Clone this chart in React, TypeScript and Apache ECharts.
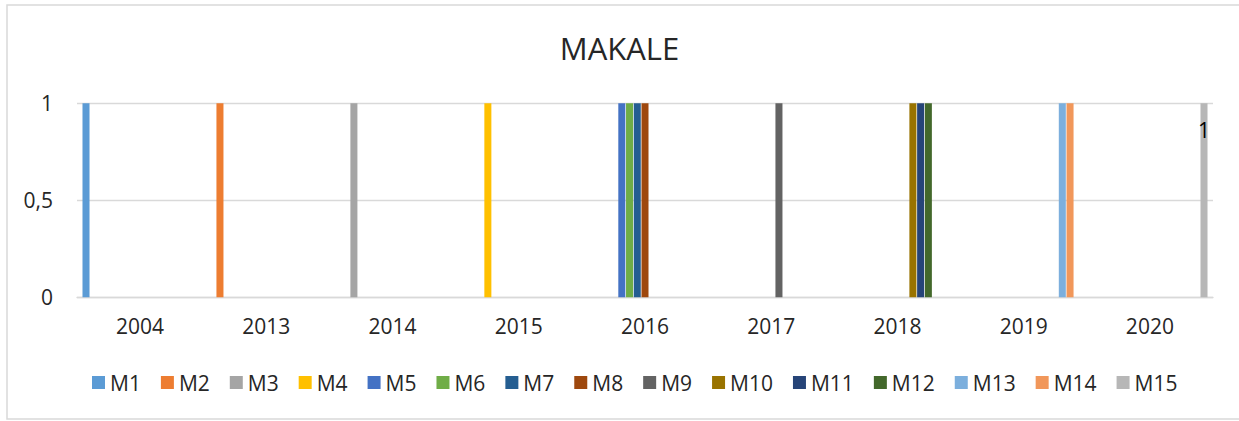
import React, { useEffect, useRef } from "react";
import * as echarts from "echarts";

const categories = ["2004", "2013", "2014", "2015", "2016", "2017", "2018", "2019", "2020"];
const seriesNames = ["M1", "M2", "M3", "M4", "M5", "M6", "M7", "M8", "M9", "M10", "M11", "M12", "M13", "M14", "M15"];
const seriesColors = [
  "#5B9BD5", "#ED7D31", "#A5A5A5", "#FFC000", "#4472C4", "#70AD47", "#255E91", "#9E480E",
  "#636363", "#997300", "#264478", "#43682B", "#7CAFDD", "#F1975A", "#B7B7B7",
];
// values per series across categories (null = blank)
const M1 = [1, null, null, null, null, null, null, null, null];
const M2 = [null, 1, null, null, null, null, null, null, null];
const M3 = [null, null, 1, null, null, null, null, null, null];
const M4 = [null, null, null, 1, null, null, null, null, null];
const M5 = [null, null, null, null, 1, null, null, null, null];
const M6 = [null, null, null, null, 1, null, null, null, null];
const M7 = [null, null, null, null, 1, null, null, null, null];
const M8 = [null, null, null, null, 1, null, null, null, null];
const M9 = [null, null, null, null, null, 1, null, null, null];
const M10 = [null, null, null, null, null, null, 1, null, null];
const M11 = [null, null, null, null, null, null, 1, null, null];
const M12 = [null, null, null, null, null, null, 1, null, null];
const M13 = [null, null, null, null, null, null, null, 1, null];
const M14 = [null, null, null, null, null, null, null, 1, null];
const M15 = [null, null, null, null, null, null, null, null, 1];
const seriesValues = [M1, M2, M3, M4, M5, M6, M7, M8, M9, M10, M11, M12, M13, M14, M15];
const yTicks = [0, 0.5, 1];

const FONT = "'Open Sans', sans-serif";
const TEXT = "#262626";

export default function App() {
  const ref = useRef<HTMLDivElement>(null);
  useEffect(() => {
    if (!ref.current) return;
    const chart = echarts.init(ref.current, null, { renderer: "svg" });
    chart.setOption({
      animation: false,
      backgroundColor: "#ffffff",
      textStyle: { fontFamily: FONT },
      title: {
        text: "MAKALE",
        left: "center",
        top: 27,
        textStyle: { fontFamily: FONT, fontSize: 31, fontWeight: "normal", color: TEXT },
      },
      graphic: [
        {
          type: "rect",
          shape: { x: 7, y: 5, width: 1240, height: 414 },
          style: { fill: "none", stroke: "#d9d9d9", lineWidth: 1.5 },
          silent: true,
          z: -1,
        },
      ],
      legend: {
        data: seriesNames,
        left: 87,
        top: 367,
        itemWidth: 13,
        itemHeight: 13,
        itemGap: 20,
        icon: "rect",
        textStyle: { fontFamily: FONT, fontSize: 21, color: TEXT, padding: [0, 0, 0, 0] },
      },
      grid: { left: 77, right: 26, top: 103.3, bottom: 123.7, containLabel: false },
      xAxis: {
        type: "category",
        data: categories,
        axisLine: { show: true, lineStyle: { color: "#d9d9d9", width: 1.3 } },
        axisTick: { show: false },
        axisLabel: { fontFamily: FONT, fontSize: 21, color: TEXT, margin: 18 },
      },
      yAxis: {
        type: "value",
        min: yTicks[0],
        max: yTicks[yTicks.length - 1],
        interval: yTicks[1] - yTicks[0],
        axisLine: { show: false },
        axisTick: { show: false },
        splitLine: { lineStyle: { color: "#d9d9d9", width: 1.3 } },
        axisLabel: {
          fontFamily: FONT,
          fontSize: 21,
          color: TEXT,
          margin: 24,
          formatter: (v: number) => String(v).replace(".", ","),
        },
      },
      series: seriesNames.map((name, i) => ({
        name,
        type: "bar",
        data: seriesValues[i],
        itemStyle: { color: seriesColors[i] },
        barGap: "10%",
        barCategoryGap: "8.7%",
        label:
          name === "M15"
            ? {
                show: true,
                position: "insideTop",
                distance: 16,
                color: "#000000",
                fontFamily: FONT,
                fontSize: 21,
              }
            : { show: false },
      })),
    });
    return () => chart.dispose();
  }, []);
  return (
    <div
      ref={ref}
      style={{ position: "fixed", left: 0, top: 0, width: 1239, height: 421 }}
    />
  );
}
